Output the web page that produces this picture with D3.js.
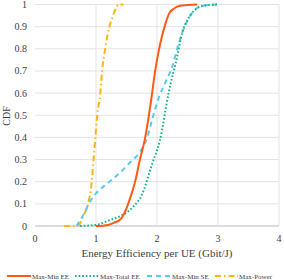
<!DOCTYPE html>
<html>
<head>
<meta charset="utf-8">
<script src="https://cdn.jsdelivr.net/npm/d3@7"></script>
<style>
  body { margin: 0; background: #fff; }
  text { font-family: "Liberation Serif", "Times New Roman", serif; fill: #404040; }
</style>
</head>
<body>
<script>
// values
var xTicks = [0, 1, 2, 3, 4];
var yTicks = [0, 0.1, 0.2, 0.3, 0.4, 0.5, 0.6, 0.7, 0.8, 0.9, 1];

var maxMinEE = [[1.0,0],[1.2,0.005],[1.3,0.015],[1.4,0.03],[1.5,0.08],[1.56,0.126],[1.65,0.21],[1.72,0.3],[1.8,0.39],[1.9,0.56],[1.97,0.70],[2.05,0.82],[2.14,0.915],[2.2,0.96],[2.27,0.98],[2.4,0.995],[2.66,1]];
var maxTotalEE = [[0.74,0],[1.0,0.005],[1.23,0.027],[1.4,0.045],[1.61,0.087],[1.75,0.14],[1.92,0.28],[2.05,0.39],[2.19,0.6],[2.33,0.765],[2.41,0.87],[2.5,0.93],[2.57,0.96],[2.7,0.99],[2.85,0.998],[3.0,1]];
var maxMinSE = [[0.68,0],[0.75,0.03],[0.82,0.065],[0.9,0.11],[1.01,0.15],[1.2,0.195],[1.39,0.24],[1.55,0.285],[1.72,0.335],[1.84,0.40],[1.93,0.49],[2.03,0.58],[2.14,0.65],[2.25,0.72],[2.33,0.8],[2.41,0.87],[2.57,0.96],[2.7,0.99],[2.82,0.997],[3.05,1]];
var maxPower = [[0.48,0],[0.6,0],[0.7,0],[0.8,0.05],[0.87,0.1],[0.93,0.2],[0.96,0.3],[0.99,0.4],[1.02,0.5],[1.07,0.6],[1.10,0.7],[1.15,0.8],[1.22,0.9],[1.28,0.95],[1.33,0.985],[1.37,1],[1.45,1]];

var series = [
  { name: "Max-Min EE", data: maxMinEE, color: "#ff5a14", dash: null, lx: 7, tx: 32 },
  { name: "Max-Total EE", data: maxTotalEE, color: "#14b482", dash: "1.6,2", lx: 75, tx: 100 },
  { name: "Max-Min SE", data: maxMinSE, color: "#5ac8f5", dash: "5,4", lx: 147, tx: 172 },
  { name: "Max-Power", data: maxPower, color: "#ffb414", dash: "6,3,1.5,3", lx: 215, tx: 239 }
];

var width = 284, height = 280;

var svg = d3.select("body").append("svg")
  .attr("width", width)
  .attr("height", height);

var x = d3.scaleLinear().domain([0, 4]).range([35, 279]);
var y = d3.scaleLinear().domain([0, 1]).range([226, 4.5]);

// grid
svg.append("g").selectAll("line.h")
  .data(yTicks).enter().append("line")
  .attr("x1", x(0)).attr("x2", x(4))
  .attr("y1", function(d){ return y(d); })
  .attr("y2", function(d){ return y(d); })
  .attr("stroke", function(d){ return d === 0 ? "#d0d0d0" : "#e3e3e3"; })
  .attr("stroke-width", function(d){ return d === 0 ? 1.5 : 1; });

svg.append("g").selectAll("line.v")
  .data(xTicks.slice(1)).enter().append("line")
  .attr("x1", function(d){ return x(d); })
  .attr("x2", function(d){ return x(d); })
  .attr("y1", y(0)).attr("y2", y(1))
  .attr("stroke", "#e3e3e3");

// tick labels
svg.append("g").selectAll("text")
  .data(yTicks).enter().append("text")
  .attr("x", 27)
  .attr("y", function(d){ return y(d) + 3.5; })
  .attr("text-anchor", "end")
  .attr("font-size", 10)
  .text(function(d){ return d3.format("")(d); });

svg.append("g").selectAll("text")
  .data(xTicks).enter().append("text")
  .attr("x", function(d){ return x(d); })
  .attr("y", 242)
  .attr("text-anchor", "middle")
  .attr("font-size", 10)
  .text(function(d){ return d; });

svg.append("text")
  .attr("x", 157).attr("y", 257)
  .attr("text-anchor", "middle")
  .attr("font-size", 11)
  .text("Energy Efficiency per UE (Gbit/J)");

svg.append("text")
  .attr("transform", "translate(10,116) rotate(-90)")
  .attr("text-anchor", "middle")
  .attr("font-size", 10)
  .text("CDF");

// curves
var line = d3.line()
  .x(function(d){ return x(d[0]); })
  .y(function(d){ return y(d[1]); })
  .curve(d3.curveMonotoneX);

var curves = [series[3], series[2], series[1], series[0]];
svg.append("g").selectAll("path")
  .data(curves).enter().append("path")
  .attr("d", function(d){ return line(d.data); })
  .attr("fill", "none")
  .attr("stroke", function(d){ return d.color; })
  .attr("stroke-width", 2)
  .attr("stroke-dasharray", function(d){ return d.dash; });

// legend
var leg = svg.append("g").selectAll("g")
  .data(series).enter().append("g");

leg.append("line")
  .attr("x1", function(d){ return d.lx; })
  .attr("x2", function(d){ return d.tx - 1; })
  .attr("y1", 276).attr("y2", 276)
  .attr("stroke", function(d){ return d.color; })
  .attr("stroke-width", 2)
  .attr("stroke-dasharray", function(d){ return d.dash; });

leg.append("text")
  .attr("x", function(d){ return d.tx; })
  .attr("y", 278.5)
  .attr("font-size", 7)
  .text(function(d){ return d.name; });
</script>
</body>
</html>
